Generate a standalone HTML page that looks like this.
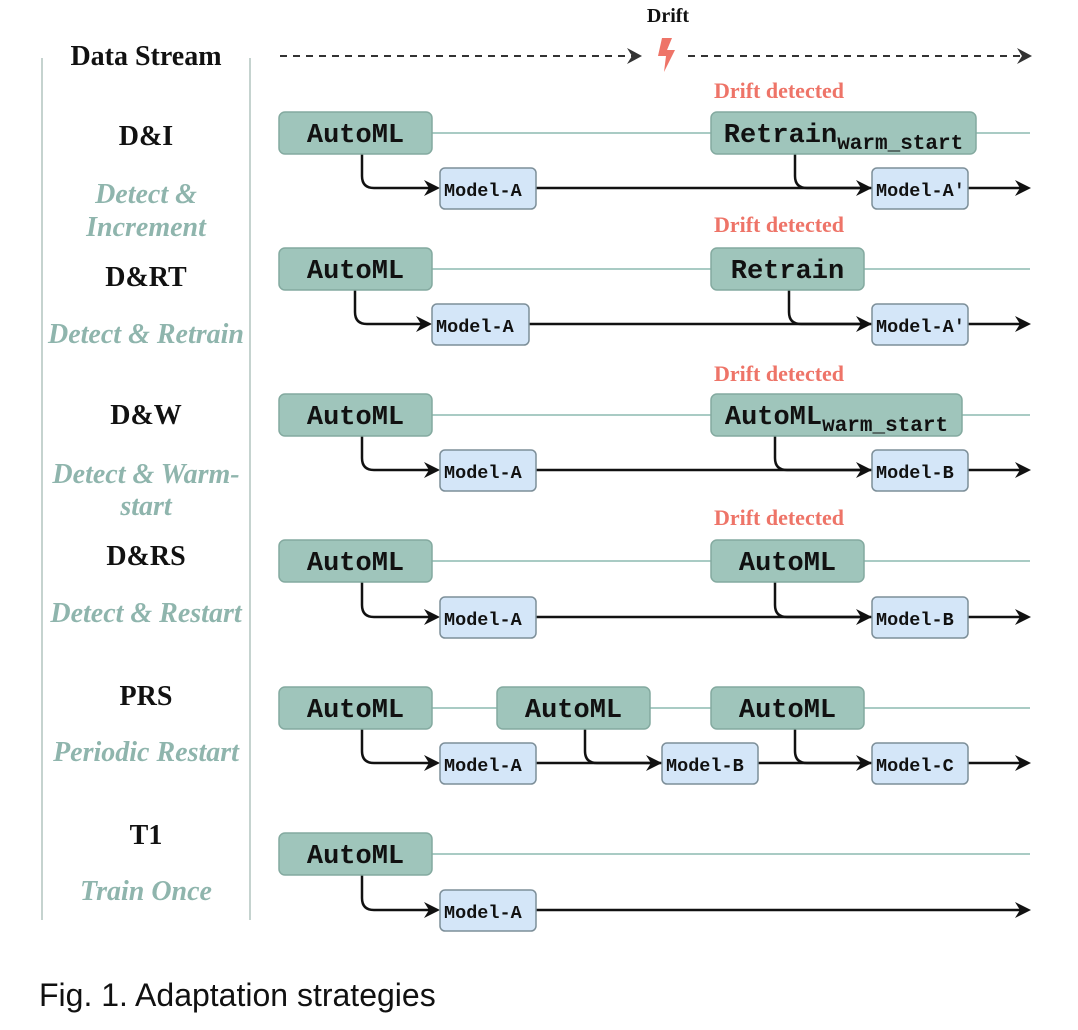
<!DOCTYPE html>
<html><head><meta charset="utf-8">
<style>
html,body{margin:0;padding:0;background:#fff;}
body{width:1078px;height:1030px;position:relative;overflow:hidden;}
svg{position:absolute;left:0;top:0;}
</style></head>
<body>
<svg id="dia" width="1078" height="1030" xmlns="http://www.w3.org/2000/svg">
</svg>
<script>
// Strategy rows: labels, subtitle lines, and vertical band tops (y)
const rowNames = ["D&I","D&RT","D&W","D&RS","PRS","T1"];
const rowSubs = [["Detect &","Increment"],["Detect & Retrain"],["Detect & Warm-","start"],["Detect & Restart"],["Periodic Restart"],["Train Once"]];
const nameY = [135,276,414,555,695,834];
const subY = [[193,226],[333],[473,505],[612],[751],[890]];
const boxTop = [112,248,394,540,687,833];
const modelTop = [168,304,450,597,743,890];
const driftY = [90,224,373,517,null,null];
// train boxes per row: [x1,x2,label,sub]
const trainBoxes = [
 [[279,432,"AutoML",""],[711,976,"Retrain","warm_start"]],
 [[279,432,"AutoML",""],[711,864,"Retrain",""]],
 [[279,432,"AutoML",""],[711,962,"AutoML","warm_start"]],
 [[279,432,"AutoML",""],[711,864,"AutoML",""]],
 [[279,432,"AutoML",""],[497,650,"AutoML",""],[711,864,"AutoML",""]],
 [[279,432,"AutoML",""]]
];
const modelBoxes = [
 [[440,536,"Model-A"],[872,968,"Model-A'"]],
 [[432,529,"Model-A"],[872,968,"Model-A'"]],
 [[440,536,"Model-A"],[872,968,"Model-B"]],
 [[440,536,"Model-A"],[872,968,"Model-B"]],
 [[440,536,"Model-A"],[662,758,"Model-B"],[872,968,"Model-C"]],
 [[440,536,"Model-A"]]
];
const elbowX = [[362,795],[355,789],[362,775],[362,775],[362,585,795],[362]];

const svg = document.getElementById('dia');
const NS = "http://www.w3.org/2000/svg";
function mk(tag, attrs, parent){
  const e = document.createElementNS(NS, tag);
  for (const k in attrs) e.setAttribute(k, attrs[k]);
  (parent||svg).appendChild(e);
  return e;
}
function txt(x,y,s,attrs){
  const t = mk('text', Object.assign({x:x,y:y},attrs));
  t.textContent = s;
  return t;
}
function arrowHead(x,y,parent){
  return mk('path',{d:`M${x},${y} L${x-16},${y-8} L${x-11},${y} L${x-16},${y+8} Z`,fill:'#111'},parent);
}

const l1 = mk('line',{x1:42,y1:58,x2:42,y2:920,stroke:'#c5d3cf','stroke-width':2});


const l2 = mk('line',{x1:250,y1:58,x2:250,y2:920,stroke:'#c5d3cf','stroke-width':2});



const ds = txt(146,65,"Data Stream",{'font-family':'"Liberation Serif",serif','font-weight':'bold','font-size':'28px','text-anchor':'middle',fill:'#111'});


const dr = txt(668,22,"Drift",{'font-family':'"Liberation Serif",serif','font-weight':'bold','font-size':'20px','text-anchor':'middle',fill:'#111'});


const sg = mk('g',{});


mk('line',{x1:280,y1:56,x2:632,y2:56,stroke:'#333','stroke-width':2,'stroke-dasharray':'7,6'},sg);
mk('path',{d:'M642,56 L627,48 L632,56 L627,64 Z',fill:'#333'},sg);
mk('line',{x1:688,y1:56,x2:1022,y2:56,stroke:'#333','stroke-width':2,'stroke-dasharray':'7,6'},sg);
mk('path',{d:'M1032,56 L1017,48 L1022,56 L1017,64 Z',fill:'#333'},sg);
const bolt = mk('path',{d:'M662,38 L672,38 L667,50 L675,50 L664,72 L666,56 L658,56 Z',fill:'#ee7468'});



for (let i=0;i<rowNames.length;i++){
  const g = mk('g',{});
  
  
  const n = txt(146,nameY[i]+10,rowNames[i],{'font-family':'"Liberation Serif",serif','font-weight':'bold','font-size':'28px','text-anchor':'middle',fill:'#111'});
  g.appendChild(n);
  
  
  rowSubs[i].forEach((s,j)=>{
    const t = txt(146,subY[i][j]+10,s,{'font-family':'"Liberation Serif",serif','font-style':'italic','font-weight':'bold','font-size':'28px','text-anchor':'middle',fill:'#8fb5ad'});
    g.appendChild(t);
    
    
  });
  if (driftY[i]!==null){
    const d = txt(779,driftY[i]+8,"Drift detected",{'font-family':'"Liberation Serif",serif','font-weight':'bold','font-size':'22px','text-anchor':'middle',fill:'#ee7468'});
    g.appendChild(d);
    
    
  }
  const bt = boxTop[i], bh = 42, bc = bt+21;
  const mt = modelTop[i], mh = 41, mc = mt+20;
  mk('line',{x1:432,y1:bc,x2:1030,y2:bc,stroke:'#a9cbc4','stroke-width':2},g);
  const mb = modelBoxes[i];
  mk('line',{x1:mb[0][1],y1:mc,x2:1026,y2:mc,stroke:'#111','stroke-width':2.5},g);
  arrowHead(1031,mc,g);
  elbowX[i].forEach((x,j)=>{
    const target = mb[j][0];
    mk('path',{d:`M${x},${bt+bh} L${x},${mc-12} Q${x},${mc} ${x+12},${mc} L${target-4},${mc}`,fill:'none',stroke:'#111','stroke-width':2.5},g);
    arrowHead(target,mc,g);
  });
  trainBoxes[i].forEach(b=>{
    const r = mk('rect',{x:b[0],y:bt,width:b[1]-b[0],height:bh,rx:6,fill:'#9fc5bb',stroke:'#84aaa0','stroke-width':1.5},g);
    
    
    const t = mk('text',{x:(b[0]+b[1])/2,y:bc+9,'font-family':'"Liberation Mono",monospace','font-weight':'bold','font-size':'27px','text-anchor':'middle',fill:'#111'},g);
    t.textContent = b[2];
    if (b[3]){
      const ts = mk('tspan',{'font-size':'21px',dy:'7'},t);
      ts.textContent = b[3];
    }
    
    
  });
  mb.forEach(b=>{
    const r = mk('rect',{x:b[0],y:mt,width:b[1]-b[0],height:mh,rx:5,fill:'#d4e6f8',stroke:'#7d8f99','stroke-width':1.5},g);
    
    
    const t = mk('text',{x:b[0]+4,y:mc+8,'font-family':'"Liberation Mono",monospace','font-weight':'bold','font-size':'18.5px',fill:'#111'},g);
    t.textContent = b[2];
    
    
  });
}
const cap = txt(39,1006,"Fig. 1. Adaptation strategies",{'font-family':'"Liberation Sans",sans-serif','font-size':'32px',fill:'#111'});


</script>
</body></html>
